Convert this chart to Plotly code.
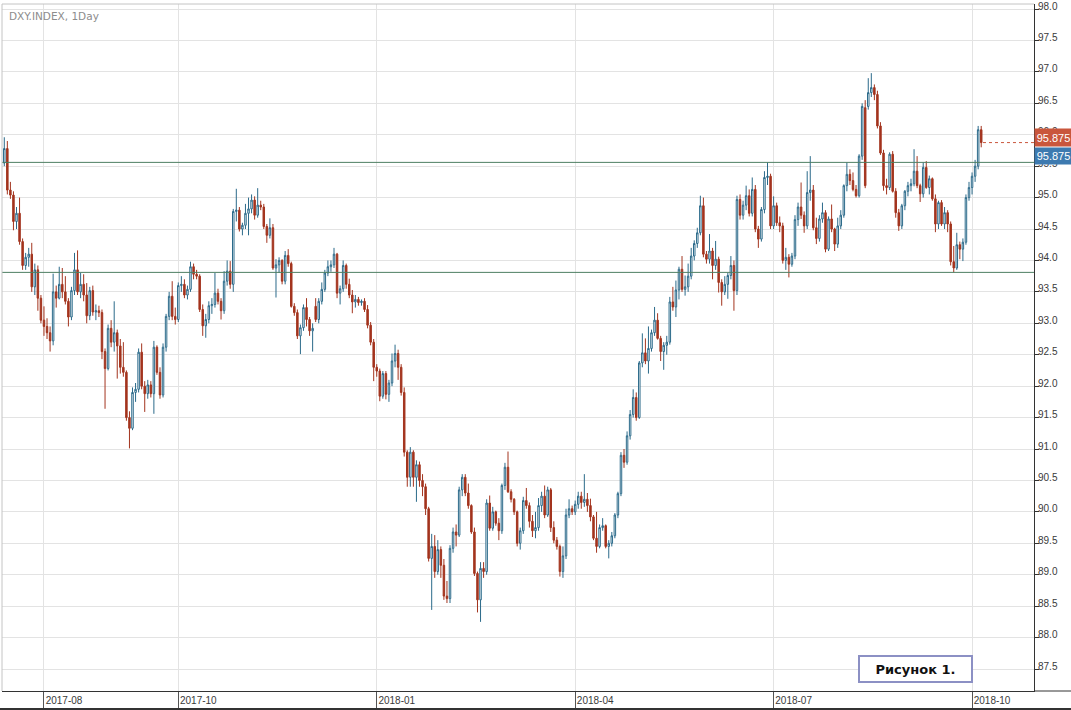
import pandas as pd
import plotly.graph_objects as go

# ---------------- data ----------------
first_day = "2017-07-13"

opens = [
    # Jul 2017
    95.55, 95.78, 95.12, 95.04, 94.62, 94.75, 94.30, 93.92, 94.05, 94.10, 93.58, 93.85, 93.40,
    # Aug 2017
    93.05, 92.95, 92.85, 92.72, 93.50, 93.40, 93.62, 93.50, 93.35, 93.10, 93.52, 93.85, 93.50, 93.62, 93.45, 93.12, 93.52, 93.18, 93.20, 93.17, 92.55, 92.28, 92.92,
    # Sep 2017
    92.70, 92.85, 92.64, 92.30, 92.22, 91.50, 91.33, 91.90, 91.95, 92.54, 92.00, 91.88, 92.02, 91.88, 92.62, 92.22, 91.86, 92.62, 93.11, 93.43, 93.11,
    # Oct 2017
    93.06, 93.60, 93.62, 93.45, 93.54, 93.90, 93.78, 93.75, 93.22, 92.96, 93.06, 93.28, 93.30, 93.48, 93.35, 93.20, 93.67, 93.83, 93.62, 94.78, 94.80, 94.50,
    # Nov 2017
    94.56, 94.75, 94.82, 94.96, 94.72, 94.88, 94.85, 94.54, 94.40, 94.52, 93.88, 93.93, 94.00, 93.67, 94.08, 93.95, 93.27, 93.17, 92.80, 92.93, 93.25, 93.06,
    # Dec 2017
    92.88, 93.27, 93.06, 93.35, 93.54, 93.80, 93.90, 93.93, 94.10, 93.48, 93.55, 93.92, 93.62, 93.45, 93.34, 93.38, 93.33, 93.35, 93.22, 92.97, 92.70,
    # Jan 2018
    92.30, 92.24, 91.84, 92.20, 91.87, 92.05, 92.40, 92.52, 92.30, 91.90, 90.95, 90.55, 90.95, 90.55, 90.75, 90.50, 90.40, 90.05, 89.26, 89.45, 89.05, 89.40, 89.15,
    # Feb 2018
    88.66, 88.62, 89.42, 89.68, 89.63, 90.35, 90.55, 90.30, 90.10, 89.68, 89.02, 88.60, 89.10, 89.05, 90.14, 89.74, 90.00, 89.82, 89.70, 90.42,
    # Mar 2018
    90.71, 90.32, 90.20, 90.00, 89.50, 89.70, 90.18, 90.10, 89.85, 89.70, 89.75, 90.10, 90.25, 89.95, 90.35, 89.75, 89.55, 89.45, 89.05, 89.30, 89.95, 90.05,
    # Apr 2018
    90.00, 90.12, 90.25, 90.15, 90.20, 90.10, 89.92, 89.58, 89.45, 89.75, 89.78, 89.45, 89.50, 89.62, 89.95, 90.29, 90.90, 90.79, 91.21, 91.55, 91.82,
    # May 2018
    91.50, 92.37, 92.53, 92.40, 92.60, 92.85, 93.05, 92.76, 92.55, 92.65, 92.70, 93.34, 93.26, 93.53, 93.86, 93.54, 93.58, 93.75, 94.07, 94.27, 94.44, 94.87, 94.10,
    # Jun 2018
    94.02, 94.15, 93.92, 94.02, 93.65, 93.50, 93.62, 93.76, 93.92, 93.52, 94.97, 94.72, 94.88, 95.03, 94.75, 95.13, 94.50, 94.34, 94.81, 95.32, 95.34,
    # Jul 2018
    94.55, 94.87, 94.60, 94.55, 94.00, 94.05, 93.94, 94.07, 94.65, 94.85, 94.72, 94.55, 95.08, 95.12, 94.52, 94.35, 94.66, 94.76, 94.18, 94.66, 94.50, 94.26,
    # Aug 2018
    94.55, 94.72, 95.19, 95.37, 95.27, 95.13, 95.03, 95.66, 96.43, 96.45, 96.67, 96.75, 96.64, 96.14, 95.71, 95.19, 95.16, 95.69, 95.10, 94.76, 94.55, 94.87, 95.10,
    # Sep 2018
    95.19, 95.22, 95.42, 95.19, 95.06, 95.48, 95.16, 95.30, 94.98, 94.58, 94.92, 94.58, 94.76, 94.58, 93.98, 93.88, 94.25, 94.18, 94.29, 95.00,
    # Oct 2018
    95.16, 95.34, 95.50, 96.08,
]

highs = [
    95.96, 95.90, 95.25, 95.10, 94.85, 95.00, 94.35, 94.12, 94.20, 94.28, 93.95, 93.92, 93.45,
    93.27, 93.08, 92.95, 93.79, 93.60, 93.90, 93.88, 93.75, 93.40, 93.58, 94.12, 94.16, 93.80, 93.78, 93.64, 93.58, 93.60, 93.30, 93.28, 93.22, 92.60, 92.98, 93.05,
    93.35, 92.90, 92.75, 92.70, 92.25, 91.60, 91.98, 92.05, 92.60, 92.68, 92.08, 92.10, 92.08, 92.72, 92.65, 92.30, 92.68, 93.15, 93.50, 93.67, 93.25,
    93.65, 93.75, 93.70, 93.60, 93.98, 93.95, 93.85, 93.78, 93.30, 93.15, 93.35, 93.40, 93.80, 93.55, 93.40, 93.83, 94.00, 93.99, 94.82, 95.14, 94.85, 94.60,
    94.90, 95.00, 95.05, 95.02, 95.15, 94.95, 94.90, 94.58, 94.67, 94.58, 94.02, 94.05, 94.02, 94.15, 94.18, 93.98, 93.32, 93.22, 92.98, 93.30, 93.40, 93.10,
    93.00, 93.40, 93.40, 93.65, 93.85, 94.00, 94.00, 94.20, 94.12, 93.60, 94.00, 93.95, 93.71, 93.53, 93.45, 93.42, 93.38, 93.40, 93.29, 93.02, 92.75,
    92.35, 92.28, 92.24, 92.24, 92.10, 92.52, 92.66, 92.58, 92.35, 91.98, 90.98, 91.03, 90.98, 90.82, 90.80, 90.60, 90.45, 90.08, 89.65, 89.63, 89.55, 89.45, 89.25,
    88.90, 89.47, 89.75, 89.80, 90.40, 90.60, 90.60, 90.45, 90.12, 89.75, 89.05, 89.20, 89.20, 90.20, 90.26, 90.08, 90.02, 89.90, 90.45, 90.78,
    90.96, 90.36, 90.22, 90.02, 89.75, 90.24, 90.38, 90.15, 89.95, 90.00, 90.22, 90.32, 90.42, 90.40, 90.38, 89.85, 89.60, 89.48, 89.45, 90.05, 90.20, 90.10,
    90.18, 90.32, 90.32, 90.60, 90.30, 90.21, 89.95, 90.00, 89.80, 89.90, 89.80, 89.55, 89.68, 89.98, 90.32, 90.95, 91.00, 91.28, 91.62, 91.95, 91.90,
    92.40, 92.84, 92.76, 92.95, 92.90, 93.26, 93.16, 92.80, 92.70, 92.80, 93.42, 93.58, 93.68, 93.90, 94.07, 93.76, 93.95, 94.20, 94.32, 94.52, 95.03, 95.00, 94.15,
    94.42, 94.20, 94.31, 94.06, 93.70, 93.75, 93.80, 94.07, 94.00, 95.03, 95.05, 94.95, 95.19, 95.13, 95.32, 95.20, 94.55, 94.85, 95.42, 95.56, 95.38,
    95.02, 94.92, 94.70, 94.60, 94.20, 94.10, 94.12, 94.72, 94.92, 95.24, 94.78, 95.42, 95.66, 95.20, 94.68, 94.72, 94.92, 94.80, 94.70, 94.89, 94.52, 94.68,
    94.80, 95.21, 95.56, 95.45, 95.40, 95.20, 95.69, 96.50, 96.55, 96.90, 96.98, 96.80, 96.70, 96.20, 95.76, 95.30, 95.72, 95.74, 95.15, 94.82, 94.90, 95.12, 95.25,
    95.30, 95.77, 95.66, 95.22, 95.56, 95.58, 95.35, 95.32, 95.05, 94.95, 94.96, 94.85, 94.80, 94.62, 94.23, 94.44, 94.30, 94.35, 95.05, 95.25,
    95.40, 95.60, 96.14, 96.14,
]

lows = [
    95.50, 95.05, 94.98, 94.48, 94.50, 94.25, 93.85, 93.85, 93.90, 93.50, 93.45, 93.20, 93.00,
    92.80, 92.75, 92.55, 92.65, 93.25, 93.38, 93.40, 93.30, 92.95, 93.05, 93.45, 93.45, 93.40, 93.35, 93.00, 93.05, 93.12, 93.05, 93.10, 92.43, 91.64, 92.25, 92.62,
    92.55, 92.12, 92.20, 92.15, 91.45, 91.01, 91.30, 91.75, 91.90, 91.95, 91.59, 91.80, 91.82, 91.56, 92.18, 91.80, 91.82, 92.55, 93.05, 93.05, 92.98,
    93.02, 93.50, 93.40, 93.38, 93.50, 93.70, 93.70, 93.18, 92.80, 92.77, 93.00, 93.15, 93.25, 93.30, 93.06, 93.15, 93.60, 93.55, 93.50, 94.62, 94.46, 94.40,
    94.50, 94.40, 94.75, 94.65, 94.68, 94.80, 94.50, 94.28, 94.35, 93.85, 93.41, 93.80, 93.62, 93.62, 93.90, 93.25, 93.12, 92.75, 92.51, 92.88, 92.95, 92.80,
    92.55, 93.02, 93.00, 93.30, 93.50, 93.75, 93.82, 93.88, 93.40, 93.30, 93.50, 93.55, 93.40, 93.16, 93.25, 93.28, 93.28, 93.18, 92.92, 92.65, 92.08,
    92.15, 91.76, 91.80, 91.79, 91.75, 92.00, 92.30, 92.10, 91.85, 90.88, 90.40, 90.40, 90.40, 90.16, 90.40, 90.25, 89.95, 89.21, 88.44, 88.95, 89.00, 88.95, 88.60,
    88.55, 88.55, 89.35, 89.45, 89.60, 90.25, 90.25, 90.05, 89.65, 88.98, 88.40, 88.25, 88.95, 89.00, 89.70, 89.70, 89.78, 89.55, 89.65, 90.35,
    90.30, 90.15, 89.95, 89.45, 89.40, 89.65, 90.05, 89.75, 89.60, 89.58, 89.70, 90.00, 89.90, 89.92, 89.68, 89.50, 89.40, 88.97, 88.95, 89.25, 89.90, 89.95,
    89.95, 90.05, 90.05, 90.08, 90.00, 89.85, 89.55, 89.35, 89.42, 89.70, 89.42, 89.26, 89.45, 89.58, 89.90, 90.25, 90.70, 90.75, 91.15, 91.50, 91.45,
    91.48, 92.30, 92.35, 92.20, 92.55, 92.80, 92.74, 92.40, 92.26, 92.50, 92.66, 93.20, 93.10, 93.38, 93.50, 93.44, 93.50, 93.70, 94.00, 94.20, 94.40, 94.05, 93.95,
    93.95, 93.70, 93.85, 93.49, 93.28, 93.45, 93.39, 93.70, 93.20, 93.45, 94.65, 94.65, 94.80, 94.70, 94.70, 94.45, 94.20, 94.30, 94.75, 95.20, 94.50,
    94.50, 94.55, 94.45, 93.95, 93.85, 93.73, 93.90, 94.02, 94.55, 94.66, 94.44, 94.50, 94.95, 94.48, 94.26, 94.30, 94.60, 94.13, 94.15, 94.45, 94.15, 94.20,
    94.50, 94.68, 95.10, 95.20, 95.10, 95.00, 95.00, 95.60, 95.15, 96.40, 96.60, 96.55, 96.10, 95.68, 95.11, 95.05, 95.12, 95.08, 94.68, 94.47, 94.50, 94.80, 95.02,
    95.10, 95.18, 95.15, 94.93, 95.00, 95.14, 95.05, 94.95, 94.45, 94.50, 94.55, 94.50, 94.45, 93.92, 93.81, 93.85, 94.02, 93.99, 94.25, 94.95,
    95.05, 95.25, 95.45, 95.80,
]

closes = [
    95.78, 95.12, 95.04, 94.62, 94.75, 94.30, 93.92, 94.05, 94.10, 93.58, 93.85, 93.40, 93.05,
    92.95, 92.85, 92.72, 93.50, 93.40, 93.62, 93.50, 93.35, 93.10, 93.52, 93.85, 93.50, 93.62, 93.45, 93.12, 93.52, 93.18, 93.20, 93.17, 92.55, 92.28, 92.92, 92.70,
    92.85, 92.64, 92.30, 92.22, 91.50, 91.33, 91.90, 91.95, 92.54, 92.00, 91.88, 92.02, 91.88, 92.62, 92.22, 91.86, 92.62, 93.11, 93.43, 93.11, 93.06,
    93.60, 93.62, 93.45, 93.54, 93.90, 93.78, 93.75, 93.22, 92.96, 93.06, 93.28, 93.30, 93.48, 93.35, 93.20, 93.67, 93.83, 93.62, 94.78, 94.80, 94.50, 94.56,
    94.75, 94.82, 94.96, 94.72, 94.88, 94.85, 94.54, 94.40, 94.52, 93.88, 93.93, 94.00, 93.67, 94.08, 93.95, 93.27, 93.17, 92.80, 92.93, 93.25, 93.06, 92.88,
    92.92, 93.06, 93.35, 93.54, 93.80, 93.90, 93.93, 94.10, 93.48, 93.55, 93.92, 93.62, 93.45, 93.34, 93.38, 93.33, 93.35, 93.22, 92.97, 92.70, 92.30,
    92.24, 91.84, 92.20, 91.87, 92.05, 92.40, 92.52, 92.30, 91.90, 90.95, 90.55, 90.95, 90.55, 90.75, 90.50, 90.40, 90.05, 89.26, 89.45, 89.05, 89.40, 89.15, 88.66,
    88.62, 89.42, 89.68, 89.63, 90.35, 90.55, 90.30, 90.10, 89.68, 89.02, 88.60, 89.10, 89.05, 90.14, 89.74, 90.00, 89.82, 89.70, 90.42, 90.71,
    90.32, 90.20, 90.00, 89.50, 89.70, 90.18, 90.10, 89.85, 89.70, 89.75, 90.10, 90.25, 89.95, 90.35, 89.75, 89.55, 89.45, 89.05, 89.30, 89.95, 90.05, 90.00,
    90.12, 90.25, 90.15, 90.20, 90.10, 89.92, 89.58, 89.45, 89.75, 89.78, 89.45, 89.50, 89.62, 89.95, 90.29, 90.90, 90.79, 91.21, 91.55, 91.82, 91.50,
    92.37, 92.53, 92.40, 92.60, 92.85, 93.05, 92.76, 92.55, 92.65, 92.70, 93.34, 93.26, 93.53, 93.86, 93.54, 93.58, 93.75, 94.07, 94.27, 94.44, 94.87, 94.10, 94.02,
    94.15, 93.92, 94.02, 93.65, 93.50, 93.62, 93.76, 93.92, 93.52, 94.97, 94.72, 94.88, 95.03, 94.75, 95.13, 94.50, 94.34, 94.81, 95.32, 95.34, 94.55,
    94.87, 94.60, 94.55, 94.00, 94.05, 93.94, 94.07, 94.65, 94.85, 94.72, 94.55, 95.08, 95.12, 94.52, 94.35, 94.66, 94.76, 94.18, 94.66, 94.50, 94.26, 94.55,
    94.72, 95.19, 95.37, 95.27, 95.13, 95.03, 95.66, 96.45, 95.19, 96.67, 96.75, 96.64, 96.14, 95.71, 95.19, 95.16, 95.69, 95.10, 94.76, 94.55, 94.87, 95.10, 95.19,
    95.22, 95.42, 95.19, 95.06, 95.48, 95.16, 95.30, 94.98, 94.58, 94.92, 94.58, 94.76, 94.58, 93.98, 93.88, 94.25, 94.18, 94.29, 95.00, 95.16,
    95.34, 95.50, 96.08, 95.875,
]

x_tick_dates = ["2017-08-01", "2017-10-02", "2018-01-01", "2018-04-02", "2018-07-02", "2018-10-01"]
x_tick_text = ["2017-08", "2017-10", "2018-01", "2018-04", "2018-07", "2018-10"]
y_tick_vals = [87.5, 88.0, 88.5, 89.0, 89.5, 90.0, 90.5, 91.0, 91.5, 92.0, 92.5,
               93.0, 93.5, 94.0, 94.5, 95.0, 95.5, 96.0, 96.5, 97.0, 97.5, 98.0]
level_lines = [95.56, 93.81]
last_price = 95.875
last_price_text = "95.875"
chart_title = "DXY.INDEX, 1Day"
figure_label = "Рисунок 1."

x_range = ["2017-07-12 06:00", "2018-10-29 07:00"]
y_range = [87.15, 98.08]

dates = pd.bdate_range(start=first_day, periods=len(closes))

# ---------------- figure ----------------
UP = "#2b6a8a"
DOWN = "#a3341e"
TAG_RED = "#c9563c"
TAG_BLUE = "#3d7ab0"
GRID = "#e3e3e3"
AXIS = "#333333"
SANS = "Liberation Sans, Arial, sans-serif"
TICKFONT = dict(family=SANS, size=10, color="#3a3a3a")

fig = go.Figure()
fig.add_trace(go.Candlestick(
    x=dates, open=opens, high=highs, low=lows, close=closes,
    increasing=dict(line=dict(color=UP, width=1), fillcolor="#ffffff"),
    decreasing=dict(line=dict(color=DOWN, width=1), fillcolor=DOWN),
    whiskerwidth=0, showlegend=False, hoverinfo="skip",
))

shapes = []
for lv in level_lines:
    shapes.append(dict(type="line", xref="paper", yref="y", x0=0, x1=1, y0=lv, y1=lv,
                       line=dict(color="#4e7f62", width=1), layer="above"))
# dashed last-price line
shapes.append(dict(type="line", xref="x", yref="y",
                   x0=dates[-1] + pd.Timedelta(hours=14), x1=x_range[1],
                   y0=last_price, y1=last_price,
                   line=dict(color=TAG_RED, width=1, dash="3px,3px")))
# frame: light top & left border, extended bottom axis line, bottom edge
shapes.append(dict(type="line", xref="paper", yref="paper", x0=0, x1=1, y0=1, y1=1,
                   line=dict(color="#c4c4c4", width=1)))
shapes.append(dict(type="line", xref="paper", yref="paper", x0=0, x1=0, y0=0, y1=1,
                   line=dict(color="#c4c4c4", width=1)))
shapes.append(dict(type="line", xref="paper", yref="paper", x0=1, x1=1.04, y0=0, y1=0,
                   line=dict(color=AXIS, width=1)))
shapes.append(dict(type="line", xref="paper", yref="paper", x0=-0.01, x1=1.04, y0=-0.0262, y1=-0.0262,
                   line=dict(color=AXIS, width=2)))

annotations = [
    dict(text=chart_title, xref="paper", yref="paper", x=0.005, y=0.982,
         xanchor="left", yanchor="middle", showarrow=False,
         font=dict(family="DejaVu Sans, Verdana, sans-serif", size=10.5, color="#8c8c8c")),
    dict(text=last_price_text, xref="paper", yref="y", x=1.0, y=95.955,
         xanchor="left", yanchor="middle", showarrow=False, bgcolor=TAG_RED,
         width=37, height=17, borderpad=0,
         font=dict(family=SANS, size=11, color="#ffffff")),
    dict(text=last_price_text, xref="paper", yref="y", x=1.0, y=95.66,
         xanchor="left", yanchor="middle", showarrow=False, bgcolor=TAG_BLUE,
         width=37, height=16, borderpad=0,
         font=dict(family=SANS, size=11, color="#ffffff")),
    dict(text="<b>" + figure_label + "</b>", xref="paper", yref="paper", x=0.8852, y=0.032,
         xanchor="center", yanchor="middle", showarrow=False,
         bgcolor="#ffffff", bordercolor="#8c90c4", borderwidth=2, borderpad=1,
         width=109, height=22,
         font=dict(family="DejaVu Sans, Verdana, sans-serif", size=13, color="#111111")),
]

fig.update_layout(
    width=1071, height=710,
    margin=dict(l=2, r=37, t=4, b=19, autoexpand=False),
    paper_bgcolor="#ffffff", plot_bgcolor="#ffffff",
    showlegend=False,
    shapes=shapes,
    annotations=annotations,
    xaxis=dict(
        type="date", range=x_range, automargin=False,
        rangebreaks=[dict(bounds=["sat", "mon"])],
        rangeslider=dict(visible=False),
        tickmode="array", tickvals=x_tick_dates, ticktext=x_tick_text,
        showgrid=True, gridcolor=GRID, gridwidth=1,
        ticks="outside", ticklen=19, tickwidth=1, tickcolor="#555555",
        ticklabelshift=20, ticklabelstandoff=-19,
        showline=True, linecolor=AXIS, linewidth=1,
        tickfont=TICKFONT, zeroline=False, fixedrange=True,
    ),
    yaxis=dict(
        side="right", range=y_range, automargin=False,
        tickmode="array", tickvals=y_tick_vals, tickformat=".1f",
        showgrid=True, gridcolor=GRID, gridwidth=1,
        ticks="outside", ticklen=4, tickwidth=1, tickcolor=AXIS,
        ticklabelshift=-3, ticklabelstandoff=-3,
        showline=True, linecolor=AXIS, linewidth=1,
        tickfont=TICKFONT, zeroline=False, fixedrange=True,
    ),
)

# remove the browser's default 8px page margin so the figure sits at (0, 0)
fig.write_html("out.html",
               config={"displayModeBar": False},
               post_script="document.body.style.margin='0px';document.body.style.overflow='hidden';")
